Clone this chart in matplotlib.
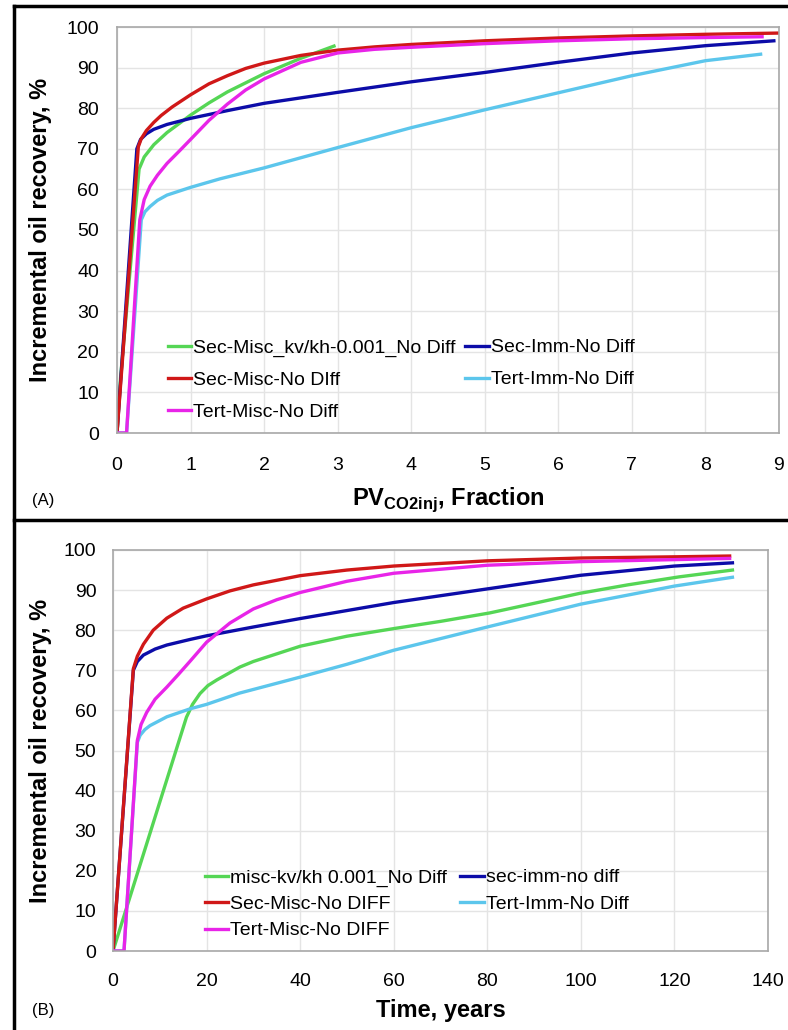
import numpy as np
import matplotlib
matplotlib.use('Agg')
import matplotlib.pyplot as plt
from matplotlib.lines import Line2D

plt.rcParams['font.family'] = ['Liberation Sans', 'DejaVu Sans']
plt.rcParams['mathtext.fontset'] = 'custom'
plt.rcParams['mathtext.rm'] = 'Liberation Sans'
plt.rcParams['mathtext.bf'] = 'Liberation Sans:bold'

# ---- panel A : recovery vs PV CO2 injected ----
pvA_green = [0, 0.05, 0.30, 0.37, 0.5, 0.68, 1.0, 1.25, 1.5, 2.0, 2.5, 2.95]
recA_green = [0, 14, 65, 68, 71, 74, 78.3, 81.3, 84, 88.5, 92.3, 95.3]
pvA_blue = [0, 0.27, 0.32, 0.4, 0.5, 0.68, 1, 1.5, 2, 3, 4, 5, 6, 7, 8, 8.93]
recA_blue = [0, 70, 72.3, 73.7, 74.8, 76, 77.5, 79.4, 81.2, 83.9, 86.5, 88.8, 91.3, 93.6, 95.4, 96.6]
pvA_red = [0, 0.29, 0.33, 0.4, 0.5, 0.6, 0.75, 1, 1.25, 1.5, 1.75, 2, 2.5, 3, 3.5, 4, 5, 6, 7, 8, 8.98]
recA_red = [0, 70.5, 72.5, 74.5, 76.5, 78.2, 80.3, 83.3, 86, 88, 89.8, 91.1, 93, 94.3, 95.1, 95.7,
            96.6, 97.3, 97.8, 98.2, 98.5]
pvA_cyan = [0, 0.13, 0.33, 0.38, 0.45, 0.55, 0.68, 1, 1.4, 2, 3, 4, 5, 6, 7, 8, 8.75]
recA_cyan = [0, 0, 52.5, 54.5, 55.8, 57.3, 58.6, 60.5, 62.6, 65.3, 70.3, 75.2, 79.6, 83.8, 88, 91.7, 93.3]
pvA_mag = [0, 0.13, 0.31, 0.37, 0.45, 0.55, 0.68, 0.85, 1, 1.25, 1.5, 1.75, 2, 2.5, 3, 3.5, 4,
           5, 6, 7, 8, 8.77]
recA_mag = [0, 0, 52.5, 57.5, 60.8, 63.5, 66.4, 69.5, 72.3, 77, 81, 84.5, 87.2, 91.3, 93.6, 94.5, 95,
            95.9, 96.6, 97.1, 97.4, 97.6]
labelsA = ['Sec-Misc_kv/kh-0.001_No Diff', 'Sec-Imm-No Diff', 'Sec-Misc-No DIff',
           'Tert-Imm-No Diff', 'Tert-Misc-No Diff']

# ---- panel B : recovery vs time ----
tB_green = [0, 15.7, 17, 18.6, 20.3, 22.2, 27.1, 30, 40, 50, 60, 70, 80.5, 90, 99.8, 110, 121, 132.4]
recB_green = [0, 58.3, 61.5, 64.2, 66.2, 67.6, 70.8, 72.2, 76, 78.5, 80.4, 82.2, 84.3, 86.7, 89.2,
              91.3, 93.3, 95]
tB_blue = [0, 4.35, 5.2, 6.5, 9, 11.5, 16.5, 20, 30, 40, 50, 60, 80, 100, 120, 132.4]
recB_blue = [0, 70, 72.2, 73.8, 75.3, 76.3, 77.7, 78.6, 80.8, 82.9, 84.9, 86.9, 90.3, 93.7, 96, 96.8]
tB_red = [0, 4.35, 5.2, 6.5, 8.6, 11.5, 15, 20, 25, 30, 40, 50, 60, 80, 100, 120, 131.8]
recB_red = [0, 70.4, 73.5, 76.5, 80, 83, 85.5, 87.8, 89.8, 91.3, 93.6, 95, 96, 97.3, 98, 98.3, 98.5]
tB_cyan = [0, 2.35, 5.2, 5.8, 6.8, 7.9, 11.5, 16.5, 20, 27, 40, 50, 60, 80, 100, 120, 132.4]
recB_cyan = [0, 0, 52, 53.8, 55.2, 56.2, 58.4, 60.4, 61.5, 64.3, 68.3, 71.5, 75, 80.8, 86.5, 91, 93.2]
tB_mag = [0, 2.35, 5.2, 6, 7.2, 9, 11.5, 14, 16.5, 20, 25, 30, 35, 40, 50, 60, 80, 100, 120, 131.8]
recB_mag = [0, 0, 52.5, 56.5, 59.5, 62.8, 65.8, 69, 72.3, 77, 81.8, 85.3, 87.6, 89.4, 92.2, 94.2,
            96.2, 97.1, 97.6, 97.9]
labelsB = ['misc-kv/kh 0.001_No Diff', 'sec-imm-no diff', 'Sec-Misc-No DIFF',
           'Tert-Imm-No Diff', 'Tert-Misc-No DIFF']

colors = ['#55d655', '#0c0ca8', '#d01818', '#5cc6ec', '#e824e8']
tick_fs = 14
lab_fs = 17


def style_axes(ax, xmax, xstep, ylab_x, tick_pad_x, tick_pad_y):
    ax.set_ylim(0, 100)
    ax.set_yticks(np.arange(0, 101, 10))
    ax.set_xlim(0, xmax)
    ax.set_xticks(np.arange(0, xmax + 0.01, xstep))
    ax.grid(True, color='#e4e4e4', linewidth=1)
    ax.set_axisbelow(True)
    for sp in ax.spines.values():
        sp.set_color('#a8a8a8')
        sp.set_linewidth(1.2)
    ax.tick_params(axis='x', length=0, pad=tick_pad_x, labelsize=tick_fs)
    ax.tick_params(axis='y', length=0, pad=tick_pad_y, labelsize=tick_fs)
    ax.set_ylabel('Incremental oil recovery, %', fontsize=lab_fs, fontweight='bold')
    ax.yaxis.set_label_coords(ylab_x, 0.5)


fig = plt.figure(figsize=(7.88, 10.30), dpi=100)

# panel A
axA = fig.add_axes([117 / 788, 1 - 433 / 1030, 662 / 788, 406 / 1030])
seriesA = [(pvA_green, recA_green), (pvA_blue, recA_blue), (pvA_red, recA_red),
           (pvA_cyan, recA_cyan), (pvA_mag, recA_mag)]
linesA = []
for (x, y), c, lab in zip(seriesA, colors, labelsA):
    l, = axA.plot(x, y, color=c, linewidth=2.4, label=lab, solid_joinstyle='round')
    linesA.append(l)
style_axes(axA, 9, 1, -0.098, 17, 13)
axA.set_xlabel(r'PV$_{\mathbf{CO2inj}}$, Fraction', fontsize=lab_fs, fontweight='bold')
axA.xaxis.set_label_coords(0.5, -0.128)
order = [0, 2, 4, 1, 3]
axA.legend([linesA[i] for i in order], [labelsA[i] for i in order], ncol=2,
           loc='upper left', bbox_to_anchor=(0.077, 0.232), frameon=False,
           fontsize=tick_fs, handlelength=1.2, handletextpad=0.1,
           labelspacing=0.74, columnspacing=0.5, borderpad=0, borderaxespad=0)

# panel B
axB = fig.add_axes([113 / 788, 1 - 951 / 1030, 655 / 788, 401 / 1030])
seriesB = [(tB_green, recB_green), (tB_blue, recB_blue), (tB_red, recB_red),
           (tB_cyan, recB_cyan), (tB_mag, recB_mag)]
linesB = []
for (x, y), c, lab in zip(seriesB, colors, labelsB):
    l, = axB.plot(x, y, color=c, linewidth=2.4, label=lab, solid_joinstyle='round')
    linesB.append(l)
style_axes(axB, 140, 20, -0.093, 16, 12)
axB.set_xlabel('Time, years', fontsize=lab_fs, fontweight='bold')
axB.xaxis.set_label_coords(0.5, -0.12)
axB.legend([linesB[i] for i in order], [labelsB[i] for i in order], ncol=2,
           loc='upper left', bbox_to_anchor=(0.14, 0.205), frameon=False,
           fontsize=tick_fs, handlelength=1.2, handletextpad=0.1,
           labelspacing=0.45, columnspacing=0.7, borderpad=0, borderaxespad=0)

fig.text(32 / 788, 1 - 500 / 1030, '(A)', fontsize=12, va='center')
fig.text(32 / 788, 1 - 1010 / 1030, '(B)', fontsize=12, va='center')

# panel frames
for xs, ys in [([14 / 788, 14 / 788], [0, 1 - 6 / 1030]),
               ([14 / 788, 1], [1 - 6 / 1030, 1 - 6 / 1030]),
               ([14 / 788, 1], [1 - 520 / 1030, 1 - 520 / 1030])]:
    fig.add_artist(Line2D(xs, ys, color='black', linewidth=2.5,
                          transform=fig.transFigure))

fig.savefig('out.png', dpi=100)
